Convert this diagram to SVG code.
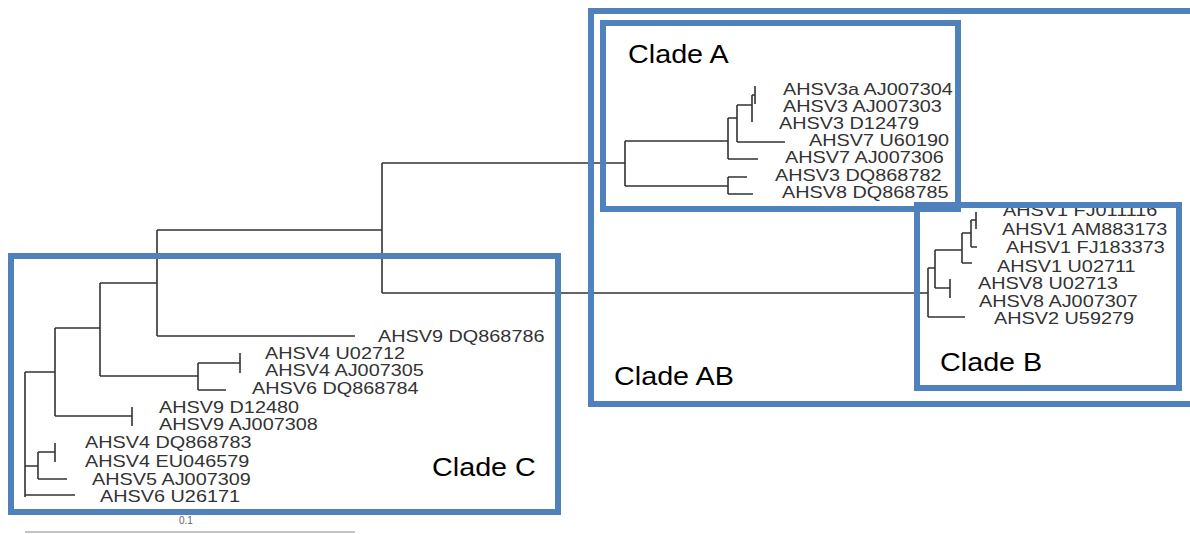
<svg xmlns="http://www.w3.org/2000/svg" width="1190" height="534" viewBox="0 0 1190 534">
<style>
.tree{fill:none;stroke:#333;stroke-width:1.6}
.lab{font-family:"Liberation Sans",Arial,sans-serif;font-size:16px;fill:#333}
.box{fill:none;stroke:#4f81bd;stroke-width:6}
.title{font-family:"Liberation Sans",Arial,sans-serif;font-size:25px;fill:#000}
.scale{font-family:"Liberation Sans",Arial,sans-serif;font-size:10px;fill:#666}
</style>
<rect width="1190" height="534" fill="#fff"/>
<g id="connectors" class="tree">
<path d="M25,372V497M25,372H55M55,328V416M55,328H100M100,283V376M100,283H157M157,230V336M157,230H382M382,163V293M382,163H625M382,293H928M157,336H355"/>
<path d="M100,376H198M198,363V390M198,363H240M240,353V373M198,390H226M55,416H132M132,407V426M25,495H75M25,466H38M38,452V479M38,479H67M38,452H55M55,443V462"/>
<path d="M625,141V186M625,141H728M728,118V159M728,159H758M728,118H737M737,105V142M737,142H785M737,105H752M752,95V122M752,95H755M755,86V104M625,186H728M728,177V194M728,177H747M728,194H753"/>
<path d="M928,268V317M928,317H965M928,268H935M935,250V288M935,288H950M950,279V298M935,250H962M962,233V263M962,263H972M962,233H971M971,220V247M971,247H977M971,220H976M976,212V229"/>
</g>
<g id="leaves" class="lab">
<g id="n-AJ007304"><text transform="translate(783,95) scale(1.24,1)">AHSV3a AJ007304</text></g>
<g id="n-AJ007303"><text transform="translate(783,112) scale(1.24,1)">AHSV3 AJ007303</text></g>
<g id="n-D12479"><text transform="translate(779,129) scale(1.24,1)">AHSV3 D12479</text></g>
<g id="n-U60190"><text transform="translate(809,146) scale(1.24,1)">AHSV7 U60190</text></g>
<g id="n-AJ007306"><text transform="translate(785,163) scale(1.24,1)">AHSV7 AJ007306</text></g>
<g id="n-DQ868782"><text transform="translate(775,181) scale(1.24,1)">AHSV3 DQ868782</text></g>
<g id="n-DQ868785"><text transform="translate(782,198) scale(1.24,1)">AHSV8 DQ868785</text></g>
<g id="n-FJ011116"><text transform="translate(1003,216) scale(1.24,1)">AHSV1 FJ011116</text></g>
<g id="n-AM883173"><text transform="translate(1002,235) scale(1.24,1)">AHSV1 AM883173</text></g>
<g id="n-FJ183373"><text transform="translate(1006,253) scale(1.24,1)">AHSV1 FJ183373</text></g>
<g id="n-U02711"><text transform="translate(997,272) scale(1.24,1)">AHSV1 U02711</text></g>
<g id="n-U02713"><text transform="translate(978,289) scale(1.24,1)">AHSV8 U02713</text></g>
<g id="n-AJ007307"><text transform="translate(979,307) scale(1.24,1)">AHSV8 AJ007307</text></g>
<g id="n-U59279"><text transform="translate(994,324) scale(1.24,1)">AHSV2 U59279</text></g>
<g id="n-DQ868786"><text transform="translate(378,342) scale(1.24,1)">AHSV9 DQ868786</text></g>
<g id="n-U02712"><text transform="translate(265,359) scale(1.24,1)">AHSV4 U02712</text></g>
<g id="n-AJ007305"><text transform="translate(265,376) scale(1.24,1)">AHSV4 AJ007305</text></g>
<g id="n-DQ868784"><text transform="translate(252,394) scale(1.24,1)">AHSV6 DQ868784</text></g>
<g id="n-D12480"><text transform="translate(159,413) scale(1.24,1)">AHSV9 D12480</text></g>
<g id="n-AJ007308"><text transform="translate(159,430) scale(1.24,1)">AHSV9 AJ007308</text></g>
<g id="n-DQ868783"><text transform="translate(85,448) scale(1.24,1)">AHSV4 DQ868783</text></g>
<g id="n-EU046579"><text transform="translate(85,467) scale(1.24,1)">AHSV4 EU046579</text></g>
<g id="n-AJ007309"><text transform="translate(92,485) scale(1.24,1)">AHSV5 AJ007309</text></g>
<g id="n-U26171"><text transform="translate(100,502) scale(1.24,1)">AHSV6 U26171</text></g>
</g>
<g id="clade-AB"><rect class="box" x="591" y="11" width="700" height="393"/><text class="title" transform="translate(614,385) scale(1.15,1)">Clade AB</text></g>
<g id="clade-A"><rect class="box" x="603" y="23" width="355" height="186"/><text class="title" transform="translate(628,63) scale(1.15,1)">Clade A</text></g>
<g id="clade-B"><rect class="box" x="917" y="205" width="262" height="183"/><text class="title" transform="translate(940,371) scale(1.15,1)">Clade B</text></g>
<g id="clade-C"><rect class="box" x="11" y="256" width="547" height="256"/><text class="title" transform="translate(432,476) scale(1.15,1)">Clade C</text></g>
<g id="scale-bar"><path d="M25,532H355" stroke="#888" stroke-width="1.2"/><text class="scale" x="179" y="524">0.1</text></g>
</svg>
